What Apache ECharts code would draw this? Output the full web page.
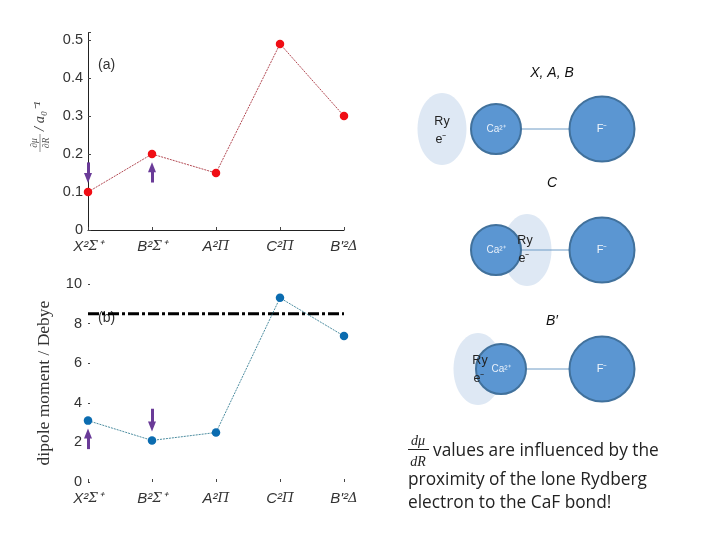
<!DOCTYPE html>
<html>
<head>
<meta charset="utf-8">
<style>html,body{margin:0;background:#fff}#chart{width:720px;height:540px}</style>
<script src="https://cdn.jsdelivr.net/npm/echarts@6/dist/echarts.min.js"></script>
</head>
<body>
<div id="chart"></div>
<script>
// Datos
const stateLabels = [
    '{it|X²}{sym|Σ}{it|⁺}',
    '{it|B²}{sym|Σ}{it|⁺}',
    '{it|A²}{sym|Π}',
    '{it|C²}{sym|Π}',
    "{it|B'²}{sym|Δ}"
];
const gradientValues = [0.1, 0.2, 0.15, 0.49, 0.3];
const dipoleValues = [3.1, 2.1, 2.5, 9.3, 7.37];
const groundDipole = [8.5, 8.5, 8.5, 8.5, 8.5];
const gradientTicks = [0, 0.1, 0.2, 0.3, 0.4, 0.5];
const dipoleTicks = [0, 2, 4, 6, 8, 10];

// Flechas moradas: [categoría, desde, hasta]
const gradientArrows = [[0, 0.178, 0.137], [1, 0.125, 0.165]];
const dipoleArrows = [[0, 1.66, 2.45], [1, 3.7, 2.8]];

const chart = echarts.init(document.getElementById('chart'));

const labelRich = {
    it: { fontFamily: 'Liberation Sans', fontStyle: 'italic', fontSize: 15, color: '#333' },
    sym: { fontFamily: 'DejaVu Serif', fontStyle: 'italic', fontSize: 13.5, color: '#333' }
};

function arrowLines(arrows) {
    return {
        silent: true,
        symbol: ['none', 'triangle'],
        symbolSize: [8, 10],
        label: { show: false },
        lineStyle: { color: '#6a3b98', width: 3, type: 'solid' },
        data: arrows.map(a => [{ coord: [a[0], a[1]] }, { coord: [a[0], a[2]] }])
    };
}

function xAxisFor(gridIndex, showLine) {
    return {
        type: 'category',
        gridIndex: gridIndex,
        data: stateLabels,
        boundaryGap: false,
        axisLine: { show: showLine, lineStyle: { color: '#222', width: 1 } },
        axisTick: { show: true, inside: true, length: 3, lineStyle: { color: '#444' } },
        axisLabel: { margin: 9, rich: labelRich, fontSize: 14, interval: 0, hideOverlap: false }
    };
}

// Diagrama de la molécula (elipse del electrón Rydberg, Ca2+, enlace y F-)
function molecule(y, caX, ryX, ryTextX, ryTextY) {
    return [
        { type: 'ellipse', shape: { cx: ryX, cy: y, rx: 24.5, ry: 36 }, style: { fill: '#dee8f4' }, z: 1 },
        { type: 'line', shape: { x1: caX, y1: y, x2: 602, y2: y }, style: { stroke: '#6e9cc6', lineWidth: 1 }, z: 2 },
        { type: 'circle', shape: { cx: caX, cy: y, r: 25 }, style: { fill: '#5b96d2', stroke: '#41719c', lineWidth: 2 }, z: 3 },
        { type: 'circle', shape: { cx: 602, cy: y, r: 32.5 }, style: { fill: '#5b96d2', stroke: '#41719c', lineWidth: 2 }, z: 3 },
        { type: 'text', x: caX, y: y, z: 4, style: { text: 'Ca²⁺', fill: '#e8f0fa', font: '10px "Liberation Sans"', textAlign: 'center', textVerticalAlign: 'middle' } },
        { type: 'text', x: 602, y: y, z: 4, style: { text: 'F⁻', fill: '#f2f6fb', font: '11px "Liberation Sans"', textAlign: 'center', textVerticalAlign: 'middle' } },
        { type: 'text', x: ryTextX, y: ryTextY, z: 5, style: { text: 'Ry', fill: '#222', font: '12.5px "Liberation Sans"', textAlign: 'center', textVerticalAlign: 'middle' } },
        { type: 'text', x: ryTextX - 1, y: ryTextY + 18, z: 5, style: { text: 'e⁻', fill: '#222', font: '12.5px "Liberation Sans"', textAlign: 'center', textVerticalAlign: 'middle' } }
    ];
}

function title(text, y) {
    return { type: 'text', x: 552, y: y, z: 5, style: { text: text, fill: '#111', font: 'italic 14px "Liberation Sans"', textAlign: 'center', textVerticalAlign: 'middle' } };
}

function caption(text, x, y) {
    return { type: 'text', x: x, y: y, z: 5, style: { text: text, fill: '#222', font: '17.3px "Open Sans"', textVerticalAlign: 'middle' } };
}

const option = {
    animation: false,
    backgroundColor: '#fff',
    grid: [
        { left: 88, width: 256, top: 32.5, height: 197.5 },
        { left: 88, width: 256, top: 284, height: 198 }
    ],
    xAxis: [xAxisFor(0, true), xAxisFor(1, false)],
    yAxis: [
        {
            type: 'value',
            gridIndex: 0,
            min: gradientTicks[0],
            max: 0.52,
            interval: 0.1,
            splitLine: { show: false },
            axisLine: { show: true, lineStyle: { color: '#222' } },
            axisTick: { show: true, inside: true, length: 3, lineStyle: { color: '#444' } },
            axisLabel: {
                margin: 5,
                fontFamily: 'Liberation Sans',
                fontSize: 14.5,
                color: '#333',
                customValues: gradientTicks,
                formatter: v => (v === 0 ? '0' : v.toFixed(1))
            }
        },
        {
            type: 'value',
            gridIndex: 1,
            min: dipoleTicks[0],
            max: dipoleTicks[5],
            interval: 2,
            name: 'dipole moment / Debye',
            nameLocation: 'middle',
            nameGap: 35,
            nameRotate: 90,
            nameTextStyle: { fontFamily: 'Liberation Serif', fontSize: 17.5, color: '#333' },
            splitLine: { show: false },
            axisLine: { show: false },
            axisTick: { show: true, inside: true, length: 2, lineStyle: { color: '#444' } },
            axisLabel: { margin: 6, fontFamily: 'Liberation Sans', fontSize: 14.5, color: '#333' }
        }
    ],
    series: [
        {
            type: 'line',
            xAxisIndex: 0,
            yAxisIndex: 0,
            data: gradientValues,
            clip: false,
            symbol: 'circle',
            symbolSize: 8.5,
            itemStyle: { color: '#f00d14' },
            lineStyle: { color: '#a01c28', width: 0.8, type: [2, 1] },
            markLine: arrowLines(gradientArrows)
        },
        {
            type: 'line',
            xAxisIndex: 1,
            yAxisIndex: 1,
            data: groundDipole,
            clip: false,
            symbol: 'none',
            lineStyle: { color: '#000', width: 3, type: [11, 3, 3, 3] },
            z: 3
        },
        {
            type: 'line',
            xAxisIndex: 1,
            yAxisIndex: 1,
            data: dipoleValues,
            clip: false,
            symbol: 'circle',
            symbolSize: 8.5,
            itemStyle: { color: '#0b6cb0' },
            lineStyle: { color: '#1f7088', width: 0.8, type: [2, 1] },
            markLine: arrowLines(dipoleArrows),
            z: 4
        }
    ],
    graphic: [
        { type: 'text', x: 98, y: 65, style: { text: '(a)', fill: '#333', font: '14px "Liberation Sans"', textVerticalAlign: 'middle' } },
        { type: 'text', x: 98, y: 318, style: { text: '(b)', fill: '#333', font: '14px "Liberation Sans"', textVerticalAlign: 'middle' } },
        // Etiqueta del eje Y superior, girada
        {
            type: 'group',
            x: 40,
            y: 152,
            rotation: Math.PI / 2,
            children: [
                { type: 'line', shape: { x1: 0, y1: 0, x2: 18, y2: 0 }, style: { stroke: '#666', lineWidth: 0.7 } },
                { type: 'text', x: 9, y: -6, style: { text: '∂μ', fill: '#555', font: 'italic 9.5px "Liberation Serif"', textAlign: 'center', textVerticalAlign: 'middle' } },
                { type: 'text', x: 9, y: 6, style: { text: '∂R', fill: '#555', font: 'italic 9.5px "Liberation Serif"', textAlign: 'center', textVerticalAlign: 'middle' } },
                { type: 'text', x: 21, y: 0, style: { text: '/ a₀⁻¹', fill: '#444', font: 'italic 14.5px "Liberation Serif"', textVerticalAlign: 'middle' } }
            ]
        },
        title('X, A, B', 73),
        title('C', 183),
        title('B′', 321),
        ...molecule(129, 496, 442, 442, 122),
        ...molecule(250, 496, 527, 525, 241),
        ...molecule(369, 501, 478, 480, 361),
        // Texto de conclusión
        { type: 'text', x: 418, y: 441, z: 5, style: { text: 'dμ', fill: '#222', font: 'italic 14px "Liberation Serif"', textAlign: 'center', textVerticalAlign: 'middle' } },
        { type: 'line', shape: { x1: 408, y1: 449.5, x2: 429, y2: 449.5 }, style: { stroke: '#222', lineWidth: 1 } },
        { type: 'text', x: 418, y: 462, z: 5, style: { text: 'dR', fill: '#222', font: 'italic 14px "Liberation Serif"', textAlign: 'center', textVerticalAlign: 'middle' } },
        caption('values are influenced by the', 433, 451),
        caption('proximity of the lone Rydberg', 408, 480),
        caption('electron to the CaF bond!', 408, 503)
    ]
};

chart.setOption(option);
</script>
</body>
</html>
